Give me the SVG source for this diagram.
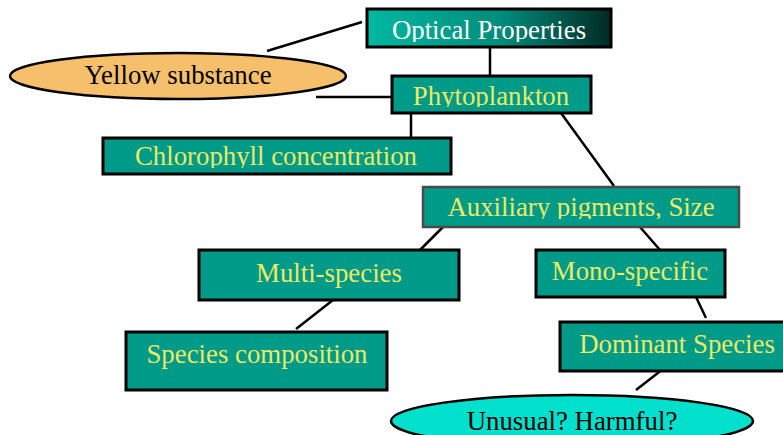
<svg xmlns="http://www.w3.org/2000/svg" width="783" height="435" viewBox="0 0 783 435">
  <style>
    .box { fill: #009A88; stroke: #000; stroke-width: 3; }
    .box-grey { fill: #009A88; stroke: #4a4a4a; stroke-width: 2.5; }
    .lbl { font-family: "Liberation Serif", "Times New Roman", serif; font-size: 26.8px; text-anchor: middle; fill: #EAEA66; }
    .lbl-dark { font-family: "Liberation Serif", "Times New Roman", serif; font-size: 26.8px; text-anchor: middle; fill: #000; }
    .lbl-white { fill: #FFFFFF; }
    .conn line { stroke: #000; stroke-width: 2.5; }
  </style>
  <defs>
    <linearGradient id="opticalFill" x1="0" y1="0" x2="1" y2="0">
      <stop offset="0" stop-color="#00B8A0"/>
      <stop offset="0.55" stop-color="#008C7C"/>
      <stop offset="1" stop-color="#002A24"/>
    </linearGradient>
    <clipPath id="clipOptical"><rect x="367" y="9" width="244" height="33"/></clipPath>
    <clipPath id="clipPhyto"><rect x="392" y="76" width="199" height="31"/></clipPath>
    <clipPath id="clipChl"><rect x="103" y="138" width="348" height="30"/></clipPath>
    <clipPath id="clipAux"><rect x="423" y="187" width="316" height="32"/></clipPath>
  </defs>

  <!-- connectors -->
  <g id="connectors" class="conn">
    <line x1="362" y1="22" x2="267" y2="51"/>
    <line x1="490" y1="47" x2="490" y2="76"/>
    <line x1="316" y1="97" x2="392" y2="97"/>
    <line x1="411" y1="113" x2="411" y2="138"/>
    <line x1="561" y1="113" x2="614" y2="186"/>
    <line x1="443" y1="227" x2="420" y2="250"/>
    <line x1="640" y1="227" x2="660" y2="250"/>
    <line x1="333" y1="300" x2="296" y2="329"/>
    <line x1="696" y1="297" x2="706" y2="318"/>
    <line x1="663" y1="369" x2="636" y2="390"/>
  </g>

  <g id="optical">
    <rect x="367" y="9" width="244" height="38" fill="url(#opticalFill)" stroke="#000" stroke-width="3"/>
    <text class="lbl lbl-white" x="489" y="39" clip-path="url(#clipOptical)">Optical Properties</text>
  </g>

  <g id="yellow-substance">
    <ellipse cx="178" cy="76" rx="168" ry="23" fill="#F5BF6B" stroke="#000" stroke-width="2.5"/>
    <text class="lbl-dark" x="178" y="84">Yellow substance</text>
  </g>

  <g id="phytoplankton">
    <rect class="box" x="392" y="76" width="199" height="37"/>
    <text class="lbl" x="491" y="105" clip-path="url(#clipPhyto)">Phytoplankton</text>
  </g>

  <g id="chlorophyll">
    <rect class="box" x="103" y="138" width="348" height="36"/>
    <text class="lbl" x="276" y="165" clip-path="url(#clipChl)">Chlorophyll concentration</text>
  </g>

  <g id="auxiliary">
    <rect class="box-grey" x="423" y="187" width="316" height="40"/>
    <text class="lbl" x="581" y="216" clip-path="url(#clipAux)">Auxiliary pigments, Size</text>
  </g>

  <g id="multi-species">
    <rect class="box" x="199" y="250" width="260" height="50"/>
    <text class="lbl" x="329" y="282">Multi-species</text>
  </g>

  <g id="mono-specific">
    <rect class="box" x="536" y="250" width="189" height="47"/>
    <text class="lbl" x="630" y="280">Mono-specific</text>
  </g>

  <g id="species-composition">
    <rect class="box" x="126" y="332" width="261" height="58"/>
    <text class="lbl" x="257" y="363">Species composition</text>
  </g>

  <g id="dominant-species">
    <rect class="box" x="560" y="322" width="225" height="49"/>
    <text class="lbl" x="677" y="353">Dominant Species</text>
  </g>

  <g id="unusual-harmful">
    <ellipse cx="572" cy="421" rx="181" ry="26" fill="#00E0CC" stroke="#000" stroke-width="2.5"/>
    <text class="lbl-dark" x="572" y="430">Unusual? Harmful?</text>
  </g>
</svg>
